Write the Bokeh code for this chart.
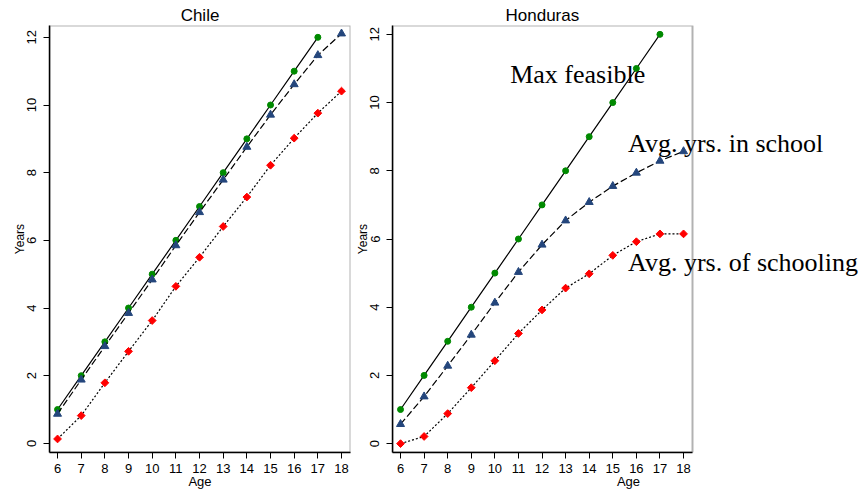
import math
from bokeh.plotting import figure
from bokeh.layouts import row
from bokeh.models import Range1d, Label, FixedTicker, BoxAnnotation
from bokeh.embed import file_html
from bokeh.resources import INLINE

# ---- data ----
ages = [6, 7, 8, 9, 10, 11, 12, 13, 14, 15, 16, 17, 18]
max_ages = [6, 7, 8, 9, 10, 11, 12, 13, 14, 15, 16, 17]
x_ticks = [6, 7, 8, 9, 10, 11, 12, 13, 14, 15, 16, 17, 18]
y_ticks = [0, 2, 4, 6, 8, 10, 12]

chile_max = [1, 2, 3, 4, 5, 6, 7, 8, 9, 10, 11, 12]
chile_in_school = [0.87, 1.88, 2.87, 3.85, 4.84, 5.85, 6.83, 7.79, 8.76, 9.71, 10.61, 11.47, 12.11]
chile_schooling = [0.13, 0.82, 1.79, 2.72, 3.63, 4.64, 5.50, 6.41, 7.28, 8.22, 9.02, 9.76, 10.41]

hond_max = [1, 2, 3, 4, 5, 6, 7, 8, 9, 10, 11, 12]
hond_in_school = [0.57, 1.38, 2.28, 3.19, 4.13, 5.03, 5.83, 6.54, 7.08, 7.55, 7.94, 8.29, 8.57]
hond_schooling = [0.00, 0.21, 0.88, 1.64, 2.43, 3.23, 3.92, 4.56, 4.98, 5.52, 5.92, 6.15, 6.15]

label_texts = ["Max feasible", "Avg. yrs. in school", "Avg. yrs. of schooling"]
label_x = [10.65, 15.65, 15.65]
label_y = [10.83, 8.79, 5.31]

GREEN = "#008a00"
NAVY = "#24467c"
RED = "#ff0000"
SANS = "Liberation Sans"
SERIF = "Liberation Serif"

X_LO, X_HI = 5.66, 18.38
BOX_W = 300
FRAME_H = 427


def make(title, yr, fw, box_w, mb_left, mb_right, maxv, in_school, schooling):
    px_per_x = box_w / (X_HI - X_LO)
    x_frame_hi = X_LO + fw / px_per_x
    p = figure(frame_width=fw, frame_height=FRAME_H,
               x_range=Range1d(X_LO, x_frame_hi), y_range=Range1d(*yr),
               output_backend="svg", toolbar_location=None,
               min_border_left=mb_left, min_border_right=mb_right,
               min_border_top=25, min_border_bottom=0,
               background_fill_color="white", border_fill_color="white")
    p.grid.visible = False

    for ax, ticks in ((p.xaxis[0], x_ticks), (p.yaxis[0], y_ticks)):
        ax.ticker = FixedTicker(ticks=ticks)
        ax.major_tick_out = 6
        ax.major_tick_in = 0
        ax.minor_tick_line_color = None
        ax.major_tick_line_color = "black"
        ax.major_tick_line_width = 1
        ax.axis_line_color = "black"
        ax.axis_line_width = 1.5
        ax.major_label_text_font = SANS
        ax.major_label_text_font_size = "13px"
        ax.major_label_text_color = "black"
        ax.axis_label_text_font = SANS
        ax.axis_label_text_font_style = "normal"
        ax.axis_label_text_color = "black"

    p.xaxis[0].bounds = (X_LO, X_HI)
    p.xaxis[0].axis_label = "Age"
    p.xaxis[0].axis_label_text_font_size = "13px"
    p.xaxis[0].major_label_standoff = 5
    p.xaxis[0].axis_label_standoff = -2
    p.yaxis[0].axis_label = "Years"
    p.yaxis[0].axis_label_text_font_size = "12px"
    p.yaxis[0].major_label_standoff = 7
    p.yaxis[0].axis_label_standoff = -2
    p.yaxis[0].major_label_orientation = "vertical"

    # plot-region box (the frame may extend further right to hold labels)
    p.outline_line_color = None
    p.add_layout(BoxAnnotation(left=X_LO, right=X_HI, bottom=yr[0], top=yr[1],
                               fill_color=None, line_color="black", line_width=2,
                               level="overlay"))

    p.title.text = title
    p.title.text_font = SANS
    p.title.text_font_size = "17px"
    p.title.text_font_style = "normal"
    p.title.text_color = "black"
    p.title.standoff = 2

    # series
    p.line(max_ages, maxv, line_color="black", line_width=1.2)
    p.scatter(max_ages, maxv, marker="circle", size=6, fill_color=GREEN, line_color=GREEN)
    p.line(ages, in_school, line_color="black", line_width=1.2, line_dash="7 3")
    p.scatter(ages, in_school, marker="triangle", size=8, fill_color=NAVY, line_color=NAVY)
    p.line(ages, schooling, line_color="black", line_width=1.2, line_dash="2 2")
    p.scatter(ages, schooling, marker="square", size=5.5, angle=math.pi / 4,
              fill_color=RED, line_color=RED)
    return p


p1 = make("Chile", (-0.27, 12.35), 301, 301, 49, 2, chile_max, chile_in_school, chile_schooling)
p1.title.align = "center"

p2 = make("Honduras", (-0.26, 12.26), 472, BOX_W, 39, 0, hond_max, hond_in_school, hond_schooling)
p2.title.align = "left"
p2.title.offset = 113

for txt, x, y in zip(label_texts, label_x, label_y):
    p2.add_layout(Label(x=x, y=y, text=txt, text_font=SERIF, text_font_size="26px",
                        text_align="left", text_baseline="alphabetic", text_color="black"))

layout = row(p1, p2)
open("out.html", "w").write(file_html(layout, INLINE))
